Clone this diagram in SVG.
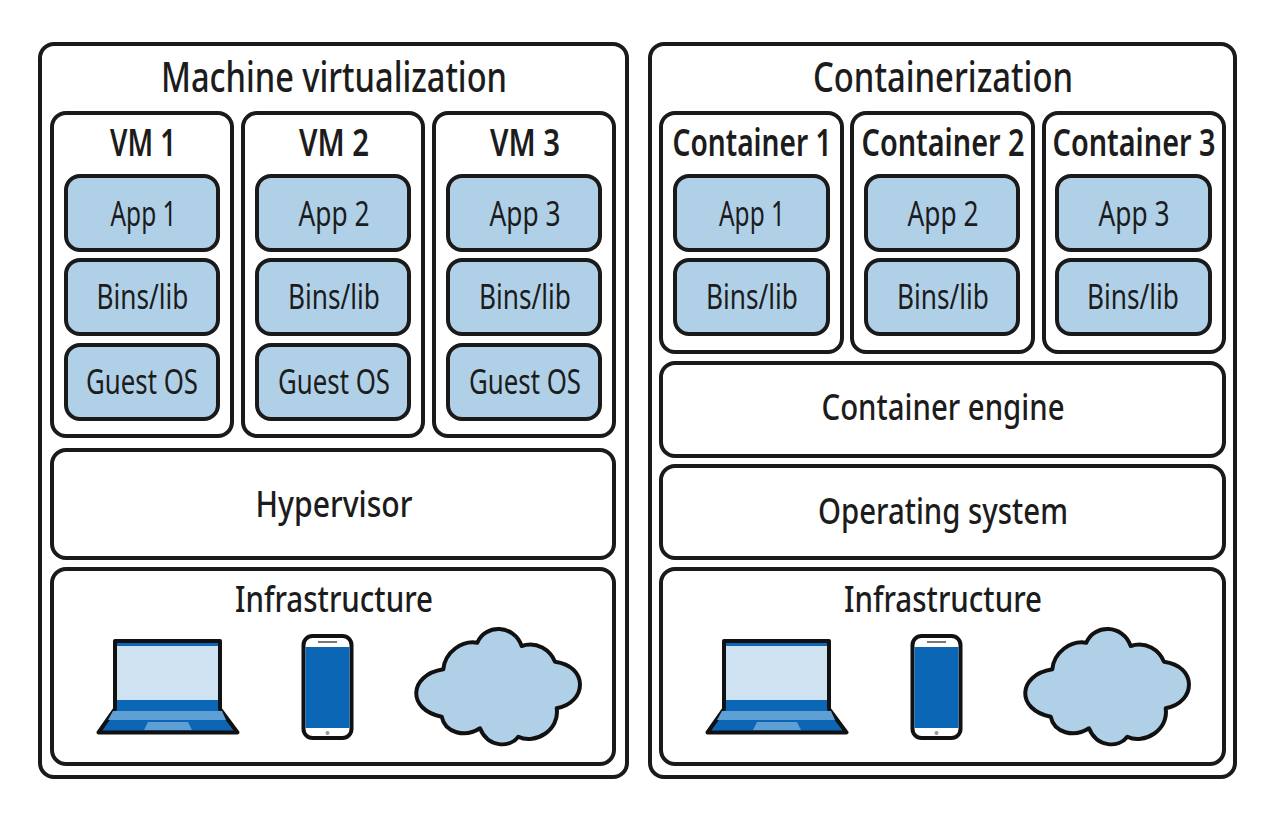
<svg xmlns="http://www.w3.org/2000/svg" width="1269" height="819" viewBox="0 0 1269 819">
<style>
text{font-family:"Noto Sans","Open Sans","Liberation Sans",sans-serif;fill:#1c1c1c;text-anchor:middle}
.o{fill:#fff;stroke:#1a1a1a;stroke-width:4}
.b{fill:#b0d0e8;stroke:#1a1a1a;stroke-width:4}
.t{font-size:41px;font-weight:500}
.h{font-size:37px;font-weight:600}
.l{font-size:35px;font-weight:400}
.m{font-size:37px;font-weight:500}
</style>
<defs>
<g id="laptop">
<path d="M115 641H220V709L237.500 732.500H98.500L115 709Z" fill="#0b67b5" stroke="#111" stroke-width="4" stroke-linejoin="round"/>
<rect x="117" y="646" width="101" height="54" fill="#cfe2f2"/>
<path d="M113 711H222L226 720H108Z" fill="#5e9fd6"/>
<path d="M148 722H188L192 730H144Z" fill="#5e9fd6"/>
</g>
<g id="phone">
<rect x="303.500" y="636" width="48" height="102" rx="9" fill="#fff" stroke="#111" stroke-width="4"/>
<rect x="305.500" y="647" width="44" height="81" fill="#0b67b5"/>
<rect x="318" y="641" width="19" height="2" fill="#777"/>
<circle cx="327.500" cy="733" r="2" fill="#999"/>
</g>
<path id="cloud" d="M443.300 669.300C445 652 462 640 477.300 642.700C485 624 514 624 521.700 646C537 641 550 650 555 661.700C588 666 588 702 556.700 708.300C560 730 535 745 518.300 736.700C510 748 488 748 480 728.300C465 738 445 733 441.700 716.700C407 710 408 675 443.300 669.300Z" fill="#b0d0e8" stroke="#111" stroke-width="4" stroke-linejoin="round"/>
</defs>
<rect width="1269" height="819" fill="#fff"/>
<g id="connectors"/>
<g id="machine-virtualization">
<rect class="o" x="40" y="44" width="587" height="733" rx="14"/>
<text class="t" x="334" y="91.500" textLength="346" lengthAdjust="spacingAndGlyphs">Machine virtualization</text>
</g>
<g id="vm1"><rect class="o" x="52" y="113" width="180" height="323" rx="14"/><text class="h" x="143" y="156" textLength="66" lengthAdjust="spacingAndGlyphs">VM 1</text></g>
<g id="vm1-app"><rect class="b" x="66" y="176" width="152" height="74" rx="14"/><text class="l" x="143.500" y="226" textLength="66" lengthAdjust="spacingAndGlyphs">App 1</text></g>
<g id="vm1-bins"><rect class="b" x="66" y="260" width="152" height="74" rx="14"/><text class="l" x="142.500" y="309" textLength="92" lengthAdjust="spacingAndGlyphs">Bins/lib</text></g>
<g id="vm1-os"><rect class="b" x="66" y="345" width="152" height="74" rx="14"/><text class="l" x="142" y="394" textLength="112" lengthAdjust="spacingAndGlyphs">Guest OS</text></g>
<g id="vm2"><rect class="o" x="243" y="113" width="180" height="323" rx="14"/><text class="h" x="334" y="156" textLength="70" lengthAdjust="spacingAndGlyphs">VM 2</text></g>
<g id="vm2-app"><rect class="b" x="257" y="176" width="152" height="74" rx="14"/><text class="l" x="334" y="226" textLength="71" lengthAdjust="spacingAndGlyphs">App 2</text></g>
<g id="vm2-bins"><rect class="b" x="257" y="260" width="152" height="74" rx="14"/><text class="l" x="334" y="309" textLength="92" lengthAdjust="spacingAndGlyphs">Bins/lib</text></g>
<g id="vm2-os"><rect class="b" x="257" y="345" width="152" height="74" rx="14"/><text class="l" x="334" y="394" textLength="112" lengthAdjust="spacingAndGlyphs">Guest OS</text></g>
<g id="vm3"><rect class="o" x="434" y="113" width="180" height="323" rx="14"/><text class="h" x="525" y="156" textLength="70" lengthAdjust="spacingAndGlyphs">VM 3</text></g>
<g id="vm3-app"><rect class="b" x="448" y="176" width="152" height="74" rx="14"/><text class="l" x="525" y="226" textLength="71" lengthAdjust="spacingAndGlyphs">App 3</text></g>
<g id="vm3-bins"><rect class="b" x="448" y="260" width="152" height="74" rx="14"/><text class="l" x="525" y="309" textLength="92" lengthAdjust="spacingAndGlyphs">Bins/lib</text></g>
<g id="vm3-os"><rect class="b" x="448" y="345" width="152" height="74" rx="14"/><text class="l" x="525" y="394" textLength="112" lengthAdjust="spacingAndGlyphs">Guest OS</text></g>
<g id="hypervisor"><rect class="o" x="52" y="450" width="562" height="108" rx="14"/><text class="m" x="334" y="517" textLength="157" lengthAdjust="spacingAndGlyphs">Hypervisor</text></g>
<g id="infrastructure-left"><rect class="o" x="52" y="569" width="562" height="195" rx="14"/><text class="m" x="334" y="612" textLength="198" lengthAdjust="spacingAndGlyphs">Infrastructure</text>
<use href="#laptop"/><use href="#phone"/><use href="#cloud"/></g>
<g id="containerization">
<rect class="o" x="650" y="44" width="585" height="733" rx="14"/>
<text class="t" x="943" y="91.500" textLength="260" lengthAdjust="spacingAndGlyphs">Containerization</text>
</g>
<g id="c1"><rect class="o" x="661" y="113" width="181" height="239" rx="14"/><text class="h" x="752" y="156" textLength="159" lengthAdjust="spacingAndGlyphs">Container 1</text></g>
<g id="c1-app"><rect class="b" x="675" y="176" width="153" height="74" rx="14"/><text class="l" x="752" y="226" textLength="66" lengthAdjust="spacingAndGlyphs">App 1</text></g>
<g id="c1-bins"><rect class="b" x="675" y="260" width="153" height="74" rx="14"/><text class="l" x="752" y="309" textLength="92" lengthAdjust="spacingAndGlyphs">Bins/lib</text></g>
<g id="c2"><rect class="o" x="852" y="113" width="181" height="239" rx="14"/><text class="h" x="943" y="156" textLength="163" lengthAdjust="spacingAndGlyphs">Container 2</text></g>
<g id="c2-app"><rect class="b" x="866" y="176" width="152" height="74" rx="14"/><text class="l" x="943" y="226" textLength="71" lengthAdjust="spacingAndGlyphs">App 2</text></g>
<g id="c2-bins"><rect class="b" x="866" y="260" width="152" height="74" rx="14"/><text class="l" x="943" y="309" textLength="92" lengthAdjust="spacingAndGlyphs">Bins/lib</text></g>
<g id="c3"><rect class="o" x="1044" y="113" width="180" height="239" rx="14"/><text class="h" x="1134" y="156" textLength="163" lengthAdjust="spacingAndGlyphs">Container 3</text></g>
<g id="c3-app"><rect class="b" x="1057" y="176" width="153" height="74" rx="14"/><text class="l" x="1134" y="226" textLength="71" lengthAdjust="spacingAndGlyphs">App 3</text></g>
<g id="c3-bins"><rect class="b" x="1057" y="260" width="153" height="74" rx="14"/><text class="l" x="1133" y="309" textLength="92" lengthAdjust="spacingAndGlyphs">Bins/lib</text></g>
<g id="engine"><rect class="o" x="661" y="363" width="563" height="93" rx="14"/><text class="m" x="943" y="420" textLength="243" lengthAdjust="spacingAndGlyphs">Container engine</text></g>
<g id="os"><rect class="o" x="661" y="466" width="563" height="92" rx="14"/><text class="m" x="943" y="524" textLength="250" lengthAdjust="spacingAndGlyphs">Operating system</text></g>
<g id="infrastructure-right"><rect class="o" x="661" y="569" width="563" height="195" rx="14"/><text class="m" x="943" y="612" textLength="198" lengthAdjust="spacingAndGlyphs">Infrastructure</text>
<use href="#laptop" x="609"/><use href="#phone" x="609"/><use href="#cloud" x="609"/></g>
</svg>
